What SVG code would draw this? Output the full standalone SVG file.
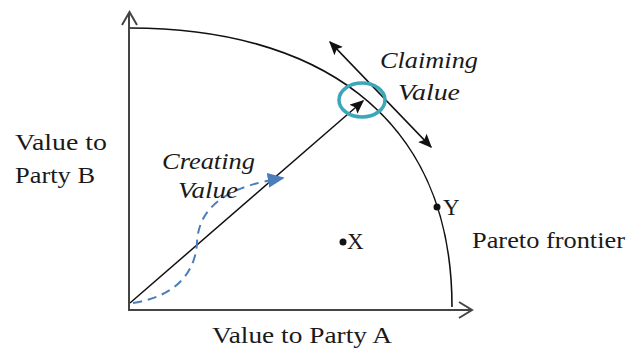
<svg xmlns="http://www.w3.org/2000/svg" width="641" height="349" viewBox="0 0 641 349">
<defs>
<style>
text{font-family:"Liberation Serif","Times New Roman",serif;font-size:23px;fill:#1a1a1a}
.i{font-style:italic}
.axis{stroke:#444;stroke-width:2;fill:none}
.line{stroke:#111;stroke-width:1.6;fill:none}
</style>
<marker id="ah" viewBox="0 0 10 10" refX="9" refY="5" markerWidth="14" markerHeight="12" markerUnits="userSpaceOnUse" orient="auto-start-reverse" preserveAspectRatio="none">
<path d="M0,0 L10,5 L0,10 L2,5 z" fill="#111"/>
</marker>
<marker id="ahb" viewBox="0 0 10 10" refX="9" refY="5" markerWidth="17" markerHeight="15" markerUnits="userSpaceOnUse" orient="auto" preserveAspectRatio="none">
<path d="M0,0 L10,5 L0,10 z" fill="#4a7ebb"/>
</marker>
</defs>
<rect width="641" height="349" fill="#fff"/>
<g id="axes">
<path class="axis" d="M129,311 V13"/>
<path class="axis" d="M122,25 L129.5,12 L137,25"/>
<path class="axis" d="M128,310 H471"/>
<path class="axis" d="M459,302 L472,310 L459,318"/>
</g>
<g id="frontier">
<path class="line" d="M130,28 C310,28 452,110 452,307"/>
</g>
<g id="connectors">
<path class="line" d="M130,303 L363,101" marker-end="url(#ah)" style="stroke-width:1.5"/>
<path class="line" d="M330,42 L431,147" marker-start="url(#ah)" marker-end="url(#ah)" style="stroke-width:1.8"/>
<path d="M133,303 C178,296 196,270 197,242 C199,205 230,186 283,178" fill="none" stroke="#4a7ebb" stroke-width="2" stroke-dasharray="9,6" marker-end="url(#ahb)"/>
</g>
<g id="highlight">
<ellipse cx="362" cy="100" rx="23" ry="17" fill="none" stroke="#3ca7bb" stroke-width="3.5"/>
</g>
<g id="point-x">
<circle cx="343" cy="242" r="3.5" fill="#111"/>
<text x="347" y="249">X</text>
</g>
<g id="point-y">
<circle cx="437" cy="207" r="3.5" fill="#111"/>
<text x="443" y="215">Y</text>
</g>
<g id="labels">
<text x="15" y="150" textLength="92" lengthAdjust="spacingAndGlyphs">Value to</text>
<text x="15" y="183" textLength="80" lengthAdjust="spacingAndGlyphs">Party B</text>
<text class="i" x="162" y="169" textLength="93" lengthAdjust="spacingAndGlyphs">Creating</text>
<text class="i" x="178" y="198" textLength="60" lengthAdjust="spacingAndGlyphs">Value</text>
<text class="i" x="380" y="68" textLength="98" lengthAdjust="spacingAndGlyphs">Claiming</text>
<text class="i" x="398" y="100" textLength="62" lengthAdjust="spacingAndGlyphs">Value</text>
<text x="472" y="248" textLength="153" lengthAdjust="spacingAndGlyphs">Pareto frontier</text>
<text x="212" y="343" textLength="180" lengthAdjust="spacingAndGlyphs">Value to Party A</text>
</g>
</svg>
